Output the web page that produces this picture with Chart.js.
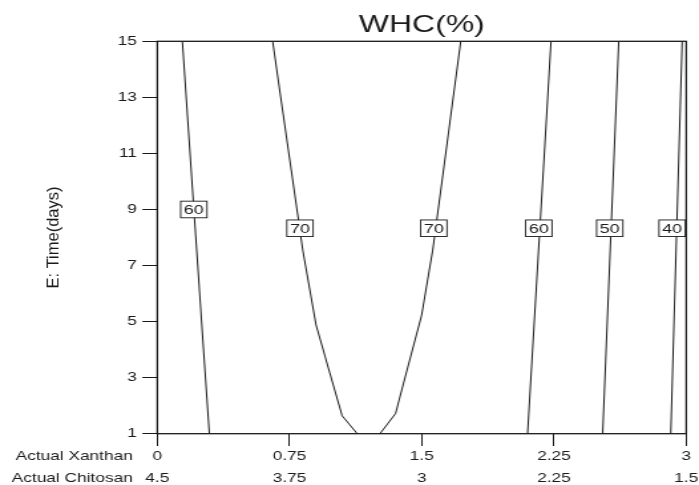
<!DOCTYPE html>
<html><head><meta charset="utf-8">
<script src="https://cdn.jsdelivr.net/npm/chart.js@4.4.1/dist/chart.umd.min.js"></script>
<style>
html,body{margin:0;padding:0;background:#fff;overflow:hidden;width:699px;height:485px;}
#wrap{position:absolute;left:0;top:0;width:526px;height:485px;transform:scaleX(1.328897);transform-origin:0 0;}
</style></head><body>
<div id="wrap"><canvas id="c"></canvas></div>
<script>
const SX = 699 / 526;
const FONT = 'Arial, "Liberation Sans", sans-serif';
const INK = '#1a1a1a';

// tick labels
const xTickValues = [0, 0.75, 1.5, 2.25, 3];
const xanthanTicks = ['0', '0.75', '1.5', '2.25', '3'];
const chitosanTicks = ['4.5', '3.75', '3', '2.25', '1.5'];
const yTickValues = [1, 3, 5, 7, 9, 11, 13, 15];

// contour lines (x = Actual Xanthan, y = Time in days)
const c60aX = [0.142, 0.207, 0.295];
const c60aY = [15, 9, 1];
const c70aX = [0.654, 0.825, 0.900, 1.048, 1.134];
const c70aY = [15, 7.55, 4.88, 1.64, 1];
const c70bX = [1.263, 1.351, 1.499, 1.562, 1.721];
const c70bY = [1, 1.72, 5.23, 7.55, 15];
const c60bX = [2.233, 2.100];
const c60bY = [15, 1];
const c50X = [2.617, 2.526];
const c50Y = [15, 1];
const c40X = [2.977, 2.912];
const c40Y = [15, 1];

// contour labels
const labelText = ['60', '70', '70', '60', '50', '40'];
const labelX = [0.207, 0.809, 1.568, 2.164, 2.566, 2.92];
const labelY = [9.0, 8.33, 8.33, 8.33, 8.33, 8.33];

const lines = [[c60aX, c60aY], [c70aX, c70aY], [c70bX, c70bY], [c60bX, c60bY], [c50X, c50Y], [c40X, c40Y]];
const datasets = lines.map(([xs, ys]) => ({
  data: xs.map((v, i) => ({ x: v, y: ys[i] })),
  showLine: true, pointRadius: 0, borderColor: INK, borderWidth: 1, tension: 0, fill: false
}));

const overlay = {
  id: 'overlay',
  afterDatasetsDraw(chart) {
    const { ctx, chartArea: a, scales: { x, y } } = chart;
    ctx.save();
    ctx.beginPath(); ctx.rect(a.left, a.top, a.right - a.left, a.bottom - a.top); ctx.clip();
    ctx.font = '13.5px ' + FONT;
    ctx.textAlign = 'center'; ctx.textBaseline = 'middle';
    labelText.forEach((t, i) => {
      const px = x.getPixelForValue(labelX[i]), py = y.getPixelForValue(labelY[i]);
      const w = 19.8, h = 16.6;
      ctx.fillStyle = '#fff'; ctx.fillRect(px - w / 2, py - h / 2, w, h);
      ctx.strokeStyle = INK; ctx.lineWidth = 0.9; ctx.strokeRect(px - w / 2, py - h / 2, w, h);
      ctx.fillStyle = INK; ctx.fillText(t, px, py + 0.6);
    });
    ctx.restore();
    ctx.save();
    ctx.strokeStyle = INK; ctx.lineWidth = 1.3;
    ctx.strokeRect(a.left, a.top, a.right - a.left, a.bottom - a.top);
    ctx.restore();
  },
  afterDraw(chart) {
    const { ctx, chartArea: a } = chart;
    ctx.save();
    ctx.fillStyle = INK;
    ctx.font = '13px ' + FONT;
    ctx.textAlign = 'right'; ctx.textBaseline = 'middle';
    ctx.fillText('Actual Xanthan', 99.9, a.bottom + 22.3);
    ctx.fillText('Actual Chitosan', 99.9, a.bottom + 44.6);
    ctx.restore();
    ctx.save();
    ctx.fillStyle = INK;
    ctx.translate(40.6, (a.top + a.bottom) / 2);
    ctx.scale(1 / SX, 1);
    ctx.rotate(-Math.PI / 2);
    ctx.font = '16.5px ' + FONT;
    ctx.textAlign = 'center'; ctx.textBaseline = 'middle';
    ctx.fillText('E: Time(days)', 0, 0);
    ctx.restore();
  }
};

new Chart(document.getElementById('c'), {
  type: 'scatter',
  data: { datasets },
  plugins: [overlay],
  options: {
    responsive: true, maintainAspectRatio: false, animation: false,
    layout: { padding: { left: 0, right: 9.6, top: 0, bottom: 0 } },
    plugins: {
      legend: { display: false }, tooltip: { enabled: false },
      title: { display: true, text: 'WHC(%)', fullSize: false, color: INK,
        font: { family: FONT, size: 24, weight: 'normal' }, padding: { top: 10.9, bottom: 1.6 } }
    },
    scales: {
      x: {
        type: 'linear', position: 'bottom', min: 0, max: 3,
        afterBuildTicks: s => { s.ticks = xTickValues.map(v => ({ value: v })); },
        afterFit: s => { s.height = 51.3; s.paddingLeft = 0; s.paddingRight = 0; },
        grid: { drawOnChartArea: false, drawTicks: true, tickLength: 12.3, color: INK, lineWidth: 1 },
        border: { display: false },
        ticks: { color: INK, font: { family: FONT, size: 13, lineHeight: '22.3px' }, padding: -1,
          maxRotation: 0, autoSkip: false,
          callback: (v) => { const i = xTickValues.indexOf(v); return [xanthanTicks[i], chitosanTicks[i]]; } }
      },
      y: {
        type: 'linear', position: 'left', min: 1, max: 15,
        afterBuildTicks: s => { s.ticks = yTickValues.map(v => ({ value: v })); },
        afterFit: s => { s.width = 118.4; s.paddingTop = 0; s.paddingBottom = 0; },
        grid: { drawOnChartArea: false, drawTicks: true, tickLength: 11.3, color: INK, lineWidth: 1 },
        border: { display: false },
        ticks: { color: INK, font: { family: FONT, size: 13 }, padding: 4.2, autoSkip: false,
          callback: v => String(v) }
      }
    }
  }
});
</script>
</body></html>
